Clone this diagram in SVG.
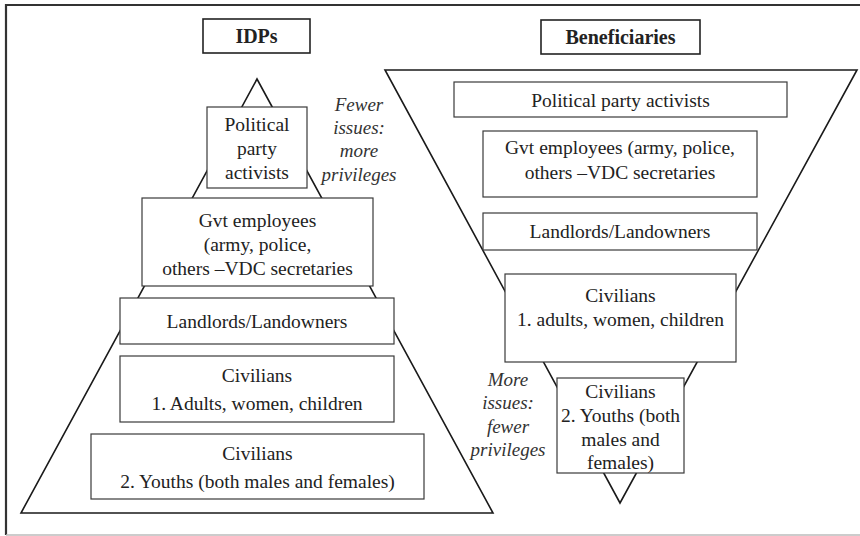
<svg xmlns="http://www.w3.org/2000/svg" width="860" height="536" viewBox="0 0 860 536" font-family="Liberation Serif, serif">
<style>
.bx{fill:#fff;stroke:#3a3a3a;stroke-width:1.2}
.tb{fill:#fff;stroke:#222;stroke-width:1.6}
.t{font-size:19.5px;fill:#222;text-anchor:middle}
.h{font-size:20px;font-weight:bold;fill:#222;text-anchor:middle}
.i{font-size:19px;font-style:italic;fill:#333;text-anchor:middle}
.tri{fill:none;stroke:#1a1a1a;stroke-width:1.6}
</style>
<rect x="0" y="0" width="860" height="536" fill="#fff"/>
<path d="M6,535 L6,5 L860,5" fill="none" stroke="#333" stroke-width="2.2"/>
<line x1="6" y1="535" x2="860" y2="535" stroke="#bbb" stroke-width="1.5"/>

<g id="connectors">
<polygon class="tri" points="257,79 21,513 493,513"/>
<polygon class="tri" points="385,70 857,70 620,503"/>
</g>

<g id="title-idps"><rect class="tb" x="203" y="19" width="107" height="34"/><text class="h" x="256.5" y="43">IDPs</text></g>
<g id="title-beneficiaries"><rect class="tb" x="541" y="20" width="159" height="34"/><text class="h" x="620.5" y="44">Beneficiaries</text></g>

<g id="l-political"><rect class="bx" x="207" y="107" width="100" height="81"/>
<text class="t" x="257" y="131">Political</text><text class="t" x="257" y="155">party</text><text class="t" x="257" y="179">activists</text></g>
<g id="l-gvt"><rect class="bx" x="142" y="198" width="231" height="88"/>
<text class="t" x="257.5" y="227">Gvt employees</text><text class="t" x="257.5" y="251">(army, police,</text><text class="t" x="257.5" y="275">others –VDC secretaries</text></g>
<g id="l-landlords"><rect class="bx" x="120" y="298" width="274" height="46"/>
<text class="t" x="257" y="328">Landlords/Landowners</text></g>
<g id="l-civ1"><rect class="bx" x="120" y="356" width="274" height="66"/>
<text class="t" x="257" y="382">Civilians</text><text class="t" x="257" y="410">1. Adults, women, children</text></g>
<g id="l-civ2"><rect class="bx" x="91" y="434" width="333" height="65"/>
<text class="t" x="257.5" y="460">Civilians</text><text class="t" x="257.5" y="488">2. Youths (both males and females)</text></g>

<g id="r-political"><rect class="bx" x="454" y="82" width="333" height="35"/>
<text class="t" x="620.5" y="107">Political party activists</text></g>
<g id="r-gvt"><rect class="bx" x="483" y="131" width="274" height="66"/>
<text class="t" x="620" y="154">Gvt employees (army, police,</text><text class="t" x="620" y="179">others –VDC secretaries</text></g>
<g id="r-landlords"><rect class="bx" x="483" y="213" width="274" height="37"/>
<text class="t" x="620" y="238">Landlords/Landowners</text></g>
<g id="r-civ1"><rect class="bx" x="505" y="274" width="231" height="88"/>
<text class="t" x="620.5" y="302">Civilians</text><text class="t" x="620.5" y="326">1. adults, women, children</text></g>
<g id="r-civ2"><rect class="bx" x="557" y="378" width="127" height="95"/>
<text class="t" x="620.5" y="398">Civilians</text><text class="t" x="620.5" y="422">2. Youths (both</text><text class="t" x="620.5" y="446">males and</text><text class="t" x="620.5" y="469">females)</text></g>

<g id="note-top"><text class="i" x="359" y="111">Fewer</text><text class="i" x="359" y="134">issues:</text><text class="i" x="359" y="157">more</text><text class="i" x="359" y="181">privileges</text></g>
<g id="note-bottom"><text class="i" x="508" y="386">More</text><text class="i" x="508" y="409">issues:</text><text class="i" x="508" y="433">fewer</text><text class="i" x="508" y="456">privileges</text></g>
</svg>
